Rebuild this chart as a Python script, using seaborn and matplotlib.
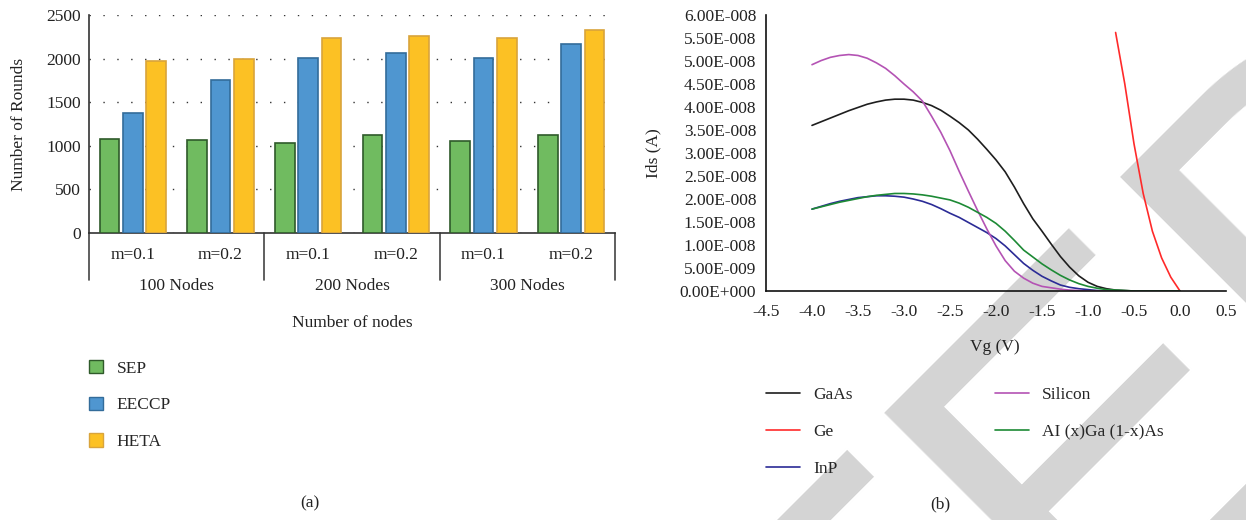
import matplotlib
matplotlib.use("Agg")
import matplotlib.pyplot as plt
import matplotlib.transforms as mtransforms
from matplotlib.patches import Patch
from matplotlib.lines import Line2D
from matplotlib.font_manager import FontProperties
import seaborn as sns
import pandas as pd

# ---- (a) number of rounds ----
node_groups = ["100 Nodes", "200 Nodes", "300 Nodes"]
m_values = ["m=0.1", "m=0.2"]
methods = ["SEP", "EECCP", "HETA"]
sep_rounds = [1078, 1066, 1032, 1120, 1055, 1120]
eeccp_rounds = [1376, 1755, 2011, 2061, 2003, 2167]
heta_rounds = [1972, 1991, 2240, 2255, 2240, 2328]
bar_colors = {"SEP": "#70bb60", "EECCP": "#4f96d0", "HETA": "#fcc124"}
bar_edges = {"SEP": "#2f5a2a", "EECCP": "#336c9a", "HETA": "#d9a43c"}

# ---- (b) Ids vs Vg (units of 1e-8 A) ----
vg = [-4.0, -3.9, -3.8, -3.7, -3.6, -3.5, -3.4, -3.3, -3.2, -3.1, -3.0,
      -2.9, -2.8, -2.7, -2.6, -2.5, -2.4, -2.3, -2.2, -2.1, -2.0,
      -1.9, -1.8, -1.7, -1.6, -1.5, -1.4, -1.3, -1.2, -1.1, -1.0,
      -0.9, -0.8, -0.7, -0.6, -0.5, -0.4, -0.3, -0.2, -0.1, 0.0]
gaas = [3.60, 3.68, 3.76, 3.84, 3.92, 3.99, 4.06, 4.11, 4.15, 4.17, 4.17,
        4.15, 4.10, 4.03, 3.93, 3.80, 3.66, 3.50, 3.30, 3.08, 2.85,
        2.59, 2.26, 1.90, 1.57, 1.30, 1.02, 0.75, 0.52, 0.33, 0.19,
        0.10, 0.05, 0.02, 0.01, 0, 0, 0, 0, 0, 0]
silicon = [4.92, 5.01, 5.08, 5.12, 5.14, 5.12, 5.06, 4.96, 4.84, 4.68, 4.50,
           4.33, 4.13, 3.80, 3.45, 3.05, 2.60, 2.17, 1.75, 1.35, 0.98,
           0.66, 0.43, 0.28, 0.17, 0.10, 0.07, 0.04, 0.02, 0.01, 0,
           0, 0, 0, 0, 0, 0, 0, 0, 0, 0]
algaas = [1.78, 1.83, 1.88, 1.93, 1.97, 2.01, 2.05, 2.08, 2.10, 2.12, 2.12,
          2.11, 2.09, 2.06, 2.02, 1.98, 1.91, 1.82, 1.71, 1.60, 1.47,
          1.30, 1.10, 0.89, 0.74, 0.59, 0.46, 0.34, 0.24, 0.16, 0.10,
          0.06, 0.03, 0.02, 0.01, 0, 0, 0, 0, 0, 0]
inp = [1.78, 1.84, 1.90, 1.95, 1.99, 2.03, 2.05, 2.07, 2.07, 2.06, 2.04,
       2.00, 1.95, 1.88, 1.79, 1.69, 1.60, 1.49, 1.38, 1.27, 1.14,
       0.98, 0.79, 0.60, 0.45, 0.32, 0.22, 0.13, 0.08, 0.05, 0.03,
       0.01, 0, 0, 0, 0, 0, 0, 0, 0, 0]
ge_vg = [-0.7, -0.6, -0.5, -0.4, -0.3, -0.2, -0.1, 0.0]
ge = [5.62, 4.50, 3.20, 2.12, 1.30, 0.72, 0.30, 0.0]
materials = ["GaAs", "Ge", "InP", "Silicon", "AI (x)Ga (1-x)As"]
line_colors = {"GaAs": "#1e1e1e", "Ge": "#ff2a2a", "InP": "#2b2b96",
               "Silicon": "#b453b4", "AI (x)Ga (1-x)As": "#1d8a35"}

sns.set_theme(style="white")
plt.rcParams["font.family"] = ["Liberation Serif", "DejaVu Serif"]
plt.rcParams["axes.unicode_minus"] = False
FS = 12.5
W, H = 1246, 520

fig = plt.figure(figsize=(W / 100, H / 100), dpi=100)

# watermark behind everything: place so the final "E" top-left corner
# sits about where it is in the reference
wm_font = FontProperties(family="Liberation Sans", size=360)
rend = fig.canvas.get_renderer()
w_pre = rend.get_text_width_height_descent("RETRACTE", wm_font, ismath=False)[0]
w_e, h_e, _ = rend.get_text_width_height_descent("E", wm_font, ismath=False)
s_e = w_pre - w_e
c = 0.70710678
tx, ty = 844, H - 412
ax_ = tx - s_e * c + h_e * c
ay_ = ty - s_e * c - h_e * c
fig.text(ax_ / W, ay_ / H, "RETRACTED", rotation=45, rotation_mode="anchor",
         ha="left", va="baseline", fontproperties=wm_font, color="#d4d4d4",
         zorder=-1)

# ================= (a) =================
ax1 = fig.add_axes([89 / W, 1 - 233 / H, 526 / W, 218 / H])
ax1.patch.set_alpha(0)
cats = [f"{g}|{m}" for g in node_groups for m in m_values]
rows = []
for meth, vals in zip(methods, [sep_rounds, eeccp_rounds, heta_rounds]):
    for cat, v in zip(cats, vals):
        rows.append({"cat": cat, "method": meth, "rounds": v})
df_a = pd.DataFrame(rows)
sns.barplot(data=df_a, x="cat", y="rounds", hue="method", order=cats,
            hue_order=methods, palette=bar_colors, width=0.8, gap=0.15,
            linewidth=1.2, saturation=1, ax=ax1, legend=False)
for cont, meth in zip(ax1.containers, methods):
    for p in cont.patches:
        p.set_edgecolor(bar_edges[meth])
        p.set_zorder(3)

ax1.set_ylim(0, 2500)
ax1.set_xlim(-0.5, 5.5)
ax1.set_yticks([0, 500, 1000, 1500, 2000, 2500])
ax1.yaxis.grid(True, linestyle=(0, (1, 9)), color="#333333", linewidth=1.0)
ax1.set_axisbelow(True)
ax1.set_xticks(range(6), [m for g in node_groups for m in m_values])
ax1.tick_params(axis="both", length=0, labelsize=FS, labelcolor="#222222")
ax1.tick_params(axis="x", pad=10)
ax1.tick_params(axis="y", pad=6)
for s in ["top", "right"]:
    ax1.spines[s].set_visible(False)
for s in ["left", "bottom"]:
    ax1.spines[s].set_color("#333333")
    ax1.spines[s].set_linewidth(1.2)
ax1.set_xlabel("")
ax1.set_ylabel("Number of Rounds", fontsize=FS, color="#222222")
ax1.yaxis.set_label_coords(-0.118, 0.5)

trans = mtransforms.blended_transform_factory(ax1.transData, ax1.transAxes)
for xb in [-0.5, 1.5, 3.5, 5.5]:
    ax1.plot([xb, xb], [0, -0.215], transform=trans, color="#444444",
             linewidth=1.2, clip_on=False)
for i, g in enumerate(node_groups):
    ax1.text(2 * i + 0.5, -0.245, g, transform=trans, ha="center",
             va="center", fontsize=FS, color="#222222")
ax1.text(0.5, -0.415, "Number of nodes", transform=ax1.transAxes,
         ha="center", va="center", fontsize=FS, color="#222222")

handles_a = [Patch(facecolor=bar_colors[m], edgecolor=bar_edges[m],
                   linewidth=1.0, label=m) for m in methods]
fig.legend(handles=handles_a, loc="upper left",
           bbox_to_anchor=(89 / W, 1 - 360 / H), frameon=False,
           fontsize=FS, handlelength=0.8, handleheight=0.8,
           handletextpad=0.8, labelspacing=1.15, borderpad=0,
           borderaxespad=0)
fig.text(310 / W, 1 - 503 / H, "(a)", ha="center", va="center",
         fontsize=FS, color="#222222")

# ================= (b) =================
ax2 = fig.add_axes([766 / W, 1 - 291 / H, 460 / W, 276 / H])
ax2.patch.set_alpha(0)
rows = []
for name, vals in zip(["GaAs", "InP", "Silicon", "AI (x)Ga (1-x)As"],
                      [gaas, inp, silicon, algaas]):
    for x, v in zip(vg, vals):
        rows.append({"vg": x, "ids": v * 1e-8, "mat": name})
for x, v in zip(ge_vg, ge):
    rows.append({"vg": x, "ids": v * 1e-8, "mat": "Ge"})
df_b = pd.DataFrame(rows)
sns.lineplot(data=df_b, x="vg", y="ids", hue="mat", hue_order=materials,
             palette=line_colors, linewidth=1.2, legend=False, ax=ax2)

ax2.set_xlim(-4.5, 0.5)
ax2.set_ylim(0, 6e-8)
ax2.set_xticks([-4.5, -4.0, -3.5, -3.0, -2.5, -2.0, -1.5, -1.0, -0.5, 0.0, 0.5])
ax2.set_yticks([i * 5e-9 for i in range(13)])


def excel_sci(v, pos):
    mant, ex = f"{v:.2E}".split("E")
    return f"{mant}E{ex[0]}{int(ex[1:]):03d}"


ax2.yaxis.set_major_formatter(matplotlib.ticker.FuncFormatter(excel_sci))
ax2.xaxis.set_major_formatter(matplotlib.ticker.FormatStrFormatter("%.1f"))
ax2.tick_params(axis="both", length=0, labelsize=FS, labelcolor="#222222")
ax2.tick_params(axis="x", pad=9)
ax2.tick_params(axis="y", pad=7)
for s in ["top", "right"]:
    ax2.spines[s].set_visible(False)
for s in ["left", "bottom"]:
    ax2.spines[s].set_color("#111111")
    ax2.spines[s].set_linewidth(1.2)
ax2.set_xlabel("Vg (V)", fontsize=FS, color="#222222")
ax2.xaxis.set_label_coords(0.498, -0.175)
ax2.set_ylabel("Ids (A)", fontsize=FS, color="#222222")
ax2.yaxis.set_label_coords(-0.228, 0.5)

handles_b = [Line2D([0], [0], color=line_colors[m], linewidth=1.2, label=m)
             for m in materials]
fig.legend(handles=handles_b, loc="upper left", ncol=2,
           bbox_to_anchor=(766 / W, 1 - 387 / H), frameon=False,
           fontsize=FS, handlelength=1.95, handletextpad=0.75,
           labelspacing=1.2, columnspacing=8.2, borderpad=0,
           borderaxespad=0)
fig.text(940 / W, 1 - 504 / H, "(b)", ha="center", va="center",
         fontsize=FS, color="#222222")

fig.savefig("out.png", dpi=100)
